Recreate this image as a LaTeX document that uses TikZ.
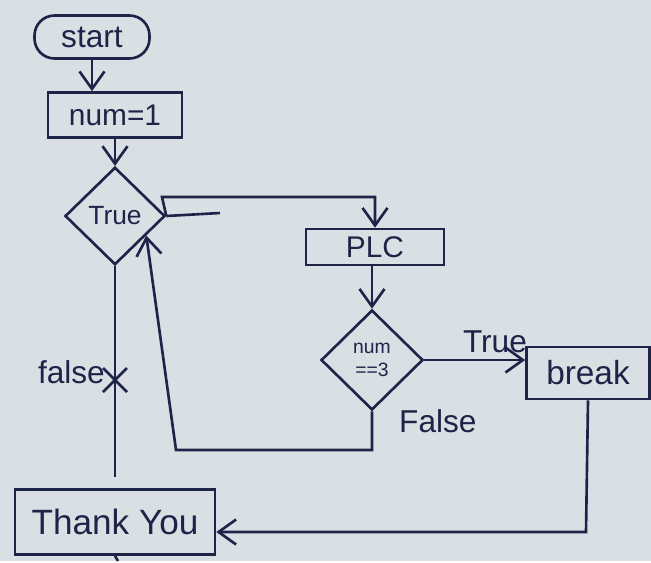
\documentclass[tikz,border=0pt]{standalone}
\usepackage{fontspec}
\setmainfont{Liberation Sans}
\usetikzlibrary{shapes.geometric,arrows.meta}
\definecolor{paper}{RGB}{218,223,228}
\definecolor{ink}{RGB}{30,36,72}
\begin{document}
\begin{tikzpicture}[x=0.02cm,y=-0.02cm,
  line width=1.5pt, draw=ink, text=ink,
  arr/.style={-{Straight Barb[length=3.5mm,width=5mm]}},
  box/.style={draw, rectangle, inner sep=0pt},
  cond/.style={draw, diamond, aspect=1, inner sep=0pt, minimum width=2cm, minimum height=1.95cm},
  lbl/.style={font=\fontsize{18}{20}\selectfont}]
\fill[paper] (0,0) rectangle (651,561);

\node[box, rounded corners=0.4cm, minimum width=2.3cm, minimum height=0.86cm, font=\fontsize{18}{20}\selectfont] (start) at (92,37) {start};
\node[box, minimum width=2.68cm, minimum height=0.9cm, font=\fontsize{17}{20}\selectfont] (num) at (115,115) {num=1};
\node[cond, font=\fontsize{15}{18}\selectfont] (loop) at (115,216) {True};
\node[box, minimum width=2.76cm, minimum height=0.72cm, font=\fontsize{17}{20}\selectfont] (plc) at (375,247) {PLC};
\node[cond, minimum width=2.04cm, minimum height=2cm, font=\fontsize{11}{13}\selectfont, align=center] (check) at (372,360) {num\\==3};
\node[box, minimum width=2.46cm, minimum height=1.04cm, font=\fontsize{19}{20}\selectfont] (brk) at (588,373) {break};
\node[box, minimum width=4cm, minimum height=1.3cm, font=\fontsize{20}{22}\selectfont] (thank) at (115,522) {Thank You};

\coordinate (up) at (162,197);
\coordinate (stub) at (220,213);
\coordinate (back) at (176,450);
\coordinate (fend) at (115,477);
\coordinate (bk) at (586,532);
\coordinate (tail) at (118,561);
\coordinate (cross) at (115,380);

\draw[arr] (start.south) -- (start.south |- num.north);
\draw[arr] (loop.north |- num.south) -- (loop.north);
\draw[arr] (loop.east) -- (up) -| (plc.north);
\draw (loop.east) -- (stub);
\draw[arr] (check.north |- plc.south) -- (check.north);
\draw[arr] (check.east) -- node[lbl, above, pos=0.7] {True} (check.east -| brk.west);
\draw[arr] (check.south) |- (back) -- (loop.-32);
\node[lbl, anchor=north west] (flbl) at (392,402) {False};
\draw (loop.south) -- (fend);
\draw ([shift={(-12,-12)}]cross) -- ([shift={(12,12)}]cross);
\draw ([shift={(-12,12)}]cross) -- ([shift={(12,-12)}]cross);
\node[lbl, anchor=east] (flab) at (112,372) {false};
\draw[arr] (brk.south) -- (bk) -- (bk -| thank.east);
\draw (thank.south) -- (tail);
\end{tikzpicture}
\end{document}
